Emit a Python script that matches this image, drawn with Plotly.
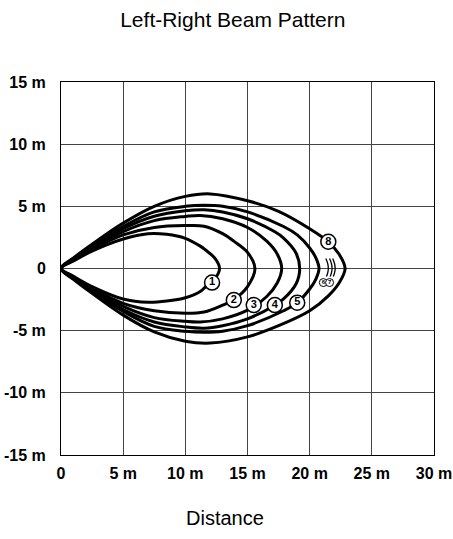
import plotly.graph_objects as go

# ---- data (metres) ----
x_ticks = [0, 5, 10, 15, 20, 25, 30]
x_tick_labels = ["0", "5 m", "10 m", "15 m", "20 m", "25 m", "30 m"]
y_ticks = [15, 10, 5, 0, -5, -10, -15]
y_tick_labels = ["15 m", "10 m", "5 m", "0", "-5 m", "-10 m", "-15 m"]

c1_x = [0, 1, 2.5, 5, 7, 8.5, 10, 11.2, 11.6, 12.4, 12.75]
c1_up = [0, 0.6, 1.4, 2.37, 2.8, 2.75, 2.43, 1.8, 1.51, 0.8, 0]
c1_lo = [0, -0.62, -1.45, -2.45, -2.72, -2.62, -2.35, -1.85, -1.5, -0.8, 0]

c2_x = [0, 1, 2.5, 5, 7.5, 10, 11.5, 13, 13.9, 15, 15.6]
c2_up = [0, 0.68, 1.55, 2.7, 3.3, 3.45, 3.4, 2.8, 2.2, 1.3, 0]
c2_lo = [0, -0.7, -1.6, -2.8, -3.4, -3.6, -3.5, -2.95, -2.5, -1.45, 0]

c3_x = [0, 1, 2.5, 5, 7.5, 10, 11.2, 13, 15, 16.55, 17.4, 17.75]
c3_up = [0, 0.72, 1.65, 2.97, 3.85, 4.19, 4.27, 4.0, 3.3, 2.2, 1.15, 0]
c3_lo = [0, -0.74, -1.7, -3.05, -3.95, -4.25, -4.3, -4.05, -3.35, -2.25, -1.15, 0]

c4_x = [0, 1, 2.5, 5, 7.5, 10, 11.5, 13, 15, 17.2, 17.9, 18.9, 19.2]
c4_up = [0, 0.77, 1.75, 3.2, 4.2, 4.64, 4.72, 4.55, 4.0, 2.95, 2.45, 1.25, 0]
c4_lo = [0, -0.78, -1.8, -3.3, -4.3, -4.7, -4.8, -4.6, -4.05, -2.95, -2.45, -1.25, 0]

c5_x = [0, 1, 2.5, 5, 7.5, 10, 11.5, 13, 15, 17.9, 19, 20, 20.5, 20.75]
c5_up = [0, 0.8, 1.85, 3.38, 4.55, 5.0, 5.08, 5.0, 4.55, 3.38, 2.7, 1.65, 0.85, 0]
c5_lo = [0, -0.82, -1.9, -3.45, -4.65, -5.05, -5.13, -5.05, -4.6, -3.4, -2.75, -1.65, -0.85, 0]

c8_x = [0, 1, 2.5, 5, 7.5, 10, 12, 15, 17.5, 20, 21.5, 22.4, 22.85]
c8_up = [0, 0.85, 1.95, 3.65, 5.0, 5.8, 6.0, 5.45, 4.6, 3.2, 2.15, 1.1, 0]
c8_lo = [0, -0.87, -2.0, -3.75, -5.1, -5.85, -6.0, -5.5, -4.6, -3.4, -2.2, -1.1, 0]

arc6_x = [21.3, 21.45, 21.5, 21.45, 21.35]
arc7_x = [21.6, 21.75, 21.8, 21.75, 21.65]
arc7b_x = [21.85, 22.0, 22.05, 22.0, 21.9]
arc_y = [0.8, 0.4, 0, -0.35, -0.65]

label_x = [12.15, 13.9, 15.5, 17.2, 19.0, 21.5]
label_y = [-1.13, -2.54, -2.94, -2.94, -2.75, 2.15]
label_txt = ["1", "2", "3", "4", "5", "8"]

small_label_x = [21.1, 21.6]
small_label_y = [-1.13, -1.13]
small_label_txt = ["6", "7"]

curves = [
    (c1_x, c1_up, c1_lo),
    (c2_x, c2_up, c2_lo),
    (c3_x, c3_up, c3_lo),
    (c4_x, c4_up, c4_lo),
    (c5_x, c5_up, c5_lo),
    (c8_x, c8_up, c8_lo),
]

FONT = "Liberation Sans, Arial, sans-serif"

fig = go.Figure()
for cx, up, lo in curves:
    xs = list(cx) + list(cx[::-1])[1:]
    ys = list(up) + list(lo[::-1])[1:]
    fig.add_trace(go.Scatter(x=xs, y=ys, mode="lines",
                             line=dict(color="black", width=3, shape="spline", smoothing=1.0),
                             hoverinfo="skip", showlegend=False))

for ax in (arc6_x, arc7_x, arc7b_x):
    fig.add_trace(go.Scatter(x=ax, y=arc_y, mode="lines",
                             line=dict(color="black", width=1.3, shape="spline"),
                             hoverinfo="skip", showlegend=False))

fig.add_trace(go.Scatter(x=label_x, y=label_y, mode="markers+text", text=label_txt,
                         textposition="middle center",
                         textfont=dict(family=FONT, size=11, color="black", weight="bold"),
                         marker=dict(symbol="circle", size=15, color="white",
                                     line=dict(color="black", width=1.5)),
                         hoverinfo="skip", showlegend=False))

fig.add_trace(go.Scatter(x=small_label_x, y=small_label_y, mode="markers+text", text=small_label_txt,
                         textposition="middle center",
                         textfont=dict(family=FONT, size=6, color="black", weight="bold"),
                         marker=dict(symbol="circle", size=8, color="white",
                                     line=dict(color="black", width=1)),
                         hoverinfo="skip", showlegend=False))

fig.update_layout(
    width=453, height=539,
    margin=dict(l=61, r=19, t=82, b=84, autoexpand=False),
    paper_bgcolor="white", plot_bgcolor="white",
    font=dict(family=FONT, color="black"),
    title=dict(text="Left-Right Beam Pattern", x=0.514, xref="container",
               y=1 - 20 / 539, yref="container", xanchor="center", yanchor="middle",
               font=dict(family=FONT, size=21, color="black")),
    xaxis=dict(range=[0, 30], tickvals=x_ticks, ticktext=x_tick_labels,
               showgrid=True, gridcolor="#444", gridwidth=1, automargin=False,
               showline=True, linecolor="black", linewidth=1, mirror=True,
               zeroline=False, ticks="", ticklabelstandoff=4,
               tickfont=dict(family=FONT, size=16, weight="bold")),
    yaxis=dict(range=[-15, 15], tickvals=y_ticks, ticktext=y_tick_labels,
               showgrid=True, gridcolor="#444", gridwidth=1, automargin=False,
               showline=True, linecolor="black", linewidth=1, mirror=True,
               zeroline=False, ticks="", ticklabelstandoff=11,
               tickfont=dict(family=FONT, size=16, weight="bold")),
    annotations=[dict(text="Distance", xref="paper", yref="paper", x=0.44, y=-0.169,
                      xanchor="center", yanchor="middle", showarrow=False,
                      font=dict(family=FONT, size=20, color="black"))],
)

fig.write_html("out.html", config={"displayModeBar": False},
               post_script="document.body.style.margin='0';document.body.style.padding='0';")
